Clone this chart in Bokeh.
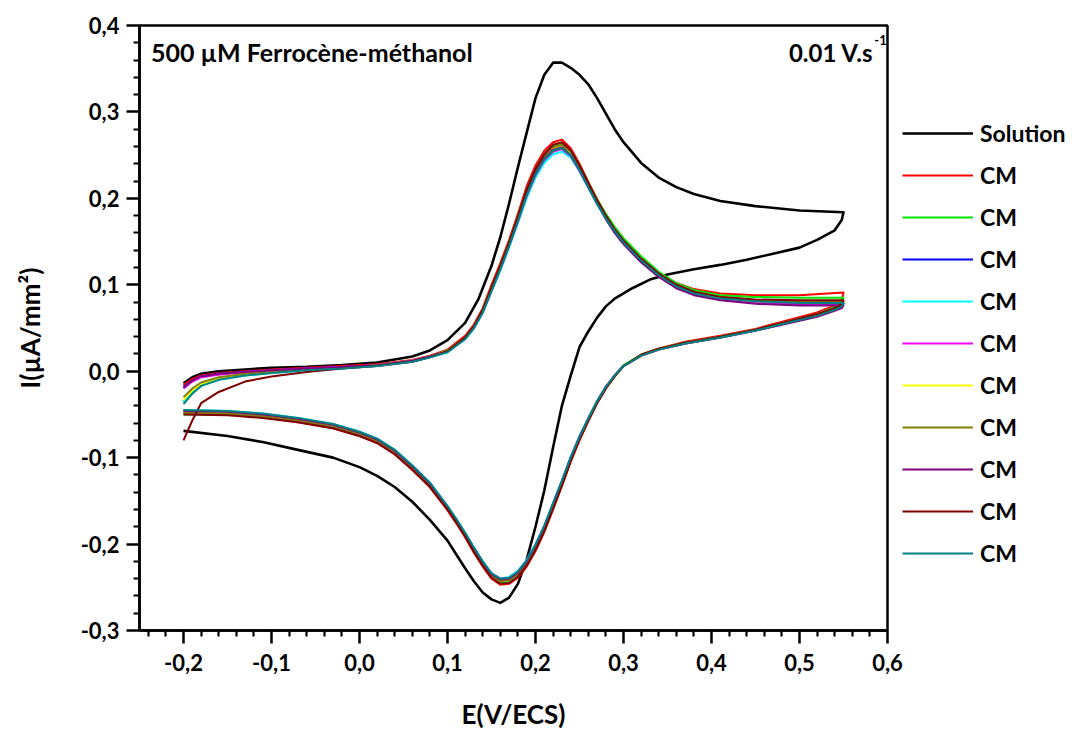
from bokeh.plotting import figure
from bokeh.models import Range1d, Legend, LegendItem, Label, FixedTicker, CustomJSTickFormatter
from bokeh.embed import file_html
from bokeh.resources import INLINE

# ---------------- data ----------------
# Solution (black) : forward (anodic) and reverse branches
E_sol_fwd = [-0.20, -0.19, -0.18, -0.16, -0.13, -0.10, -0.06, -0.02, 0.02, 0.06, 0.08, 0.10, 0.12, 0.135,
             0.15, 0.16, 0.17, 0.18, 0.19, 0.20, 0.21, 0.22, 0.23, 0.24, 0.25, 0.26, 0.27, 0.28, 0.29, 0.30,
             0.32, 0.34, 0.36, 0.38, 0.41, 0.45, 0.50, 0.55]
I_sol_fwd = [-0.014, -0.007, -0.003, 0.000, 0.002, 0.004, 0.005, 0.007, 0.010, 0.017, 0.024, 0.036, 0.056, 0.083,
             0.122, 0.155, 0.194, 0.236, 0.276, 0.316, 0.343, 0.357, 0.357, 0.351, 0.343, 0.332, 0.316, 0.298, 0.280, 0.265,
             0.241, 0.224, 0.213, 0.205, 0.197, 0.191, 0.186, 0.184]
E_sol_rev = [0.55, 0.548, 0.54, 0.52, 0.50, 0.47, 0.44, 0.41, 0.38, 0.35, 0.33, 0.31, 0.29, 0.28, 0.27,
             0.26, 0.25, 0.24, 0.23, 0.22, 0.21, 0.20, 0.19, 0.18, 0.17, 0.16, 0.15, 0.14, 0.13, 0.12,
             0.11, 0.10, 0.08, 0.06, 0.04, 0.02, 0.00, -0.03, -0.07, -0.11, -0.15, -0.20]
I_sol_rev = [0.184, 0.175, 0.163, 0.152, 0.143, 0.136, 0.129, 0.123, 0.118, 0.112, 0.106, 0.096, 0.084, 0.075, 0.062,
             0.046, 0.028, -0.005, -0.040, -0.088, -0.138, -0.180, -0.218, -0.246, -0.262, -0.268, -0.264, -0.256, -0.243, -0.228,
             -0.212, -0.196, -0.172, -0.151, -0.134, -0.121, -0.111, -0.100, -0.091, -0.082, -0.075, -0.069]

# Modified electrodes (CM) : common potential grids
E_cm_fwd = [-0.20, -0.19, -0.18, -0.16, -0.13, -0.10, -0.06, -0.02, 0.02, 0.06,
            0.08, 0.10, 0.12, 0.13, 0.14, 0.15, 0.16, 0.17, 0.18, 0.19,
            0.20, 0.21, 0.22, 0.23, 0.24, 0.25, 0.26, 0.27, 0.28, 0.29,
            0.30, 0.32, 0.34, 0.36, 0.38, 0.41, 0.45, 0.50, 0.55]
E_cm_rev = [0.55, 0.548, 0.54, 0.52, 0.49, 0.45, 0.41, 0.37, 0.34, 0.32,
            0.30, 0.29, 0.28, 0.27, 0.26, 0.25, 0.24, 0.23, 0.22, 0.21,
            0.20, 0.19, 0.18, 0.17, 0.16, 0.15, 0.14, 0.13, 0.12, 0.11,
            0.10, 0.08, 0.06, 0.04, 0.02, 0.00, -0.03, -0.07, -0.11, -0.15, -0.20]

cm_red_fwd = [-0.016, -0.009, -0.005, -0.002, 0.000, 0.002, 0.004, 0.006, 0.008, 0.013,
              0.018, 0.025, 0.041, 0.054, 0.073, 0.100, 0.125, 0.152, 0.182, 0.214,
              0.238, 0.255, 0.265, 0.268, 0.258, 0.240, 0.219, 0.199, 0.181, 0.165,
              0.152, 0.131, 0.114, 0.102, 0.095, 0.090, 0.088, 0.088, 0.091]
cm_red_rev = [0.091, 0.082, 0.076, 0.068, 0.060, 0.049, 0.041, 0.034, 0.026, 0.019,
              0.006, -0.006, -0.020, -0.037, -0.058, -0.080, -0.105, -0.133, -0.160, -0.186,
              -0.208, -0.226, -0.239, -0.246, -0.247, -0.240, -0.226, -0.210, -0.192, -0.176,
              -0.161, -0.134, -0.114, -0.096, -0.083, -0.075, -0.066, -0.059, -0.053, -0.050, -0.048]

cm_green_fwd = [-0.035, -0.024, -0.016, -0.009, -0.004, -0.001, 0.002, 0.004, 0.007, 0.012,
                0.017, 0.024, 0.039, 0.052, 0.071, 0.097, 0.122, 0.149, 0.179, 0.210,
                0.234, 0.251, 0.261, 0.264, 0.255, 0.238, 0.218, 0.199, 0.182, 0.167,
                0.154, 0.133, 0.115, 0.102, 0.094, 0.088, 0.086, 0.085, 0.085]
cm_green_rev = [0.085, 0.079, 0.074, 0.066, 0.058, 0.048, 0.040, 0.033, 0.026, 0.019,
                0.007, -0.005, -0.019, -0.036, -0.056, -0.078, -0.103, -0.131, -0.158, -0.184,
                -0.206, -0.224, -0.237, -0.244, -0.245, -0.238, -0.224, -0.208, -0.190, -0.174,
                -0.159, -0.132, -0.112, -0.094, -0.081, -0.073, -0.064, -0.057, -0.052, -0.050, -0.050]

cm_blue_fwd = [-0.018, -0.011, -0.006, -0.003, -0.001, 0.001, 0.003, 0.005, 0.007, 0.012,
               0.017, 0.023, 0.038, 0.051, 0.069, 0.094, 0.119, 0.146, 0.175, 0.205,
               0.229, 0.246, 0.256, 0.259, 0.251, 0.234, 0.214, 0.195, 0.177, 0.161,
               0.148, 0.127, 0.110, 0.097, 0.089, 0.083, 0.080, 0.078, 0.078]
cm_blue_rev = [0.078, 0.075, 0.071, 0.064, 0.057, 0.047, 0.039, 0.032, 0.025, 0.018,
               0.006, -0.005, -0.018, -0.035, -0.055, -0.076, -0.100, -0.127, -0.154, -0.180,
               -0.202, -0.220, -0.233, -0.240, -0.241, -0.235, -0.221, -0.205, -0.188, -0.172,
               -0.157, -0.130, -0.110, -0.092, -0.079, -0.071, -0.062, -0.055, -0.050, -0.047, -0.046]

cm_cyan_fwd = [-0.036, -0.025, -0.017, -0.010, -0.005, -0.002, 0.001, 0.003, 0.006, 0.011,
               0.016, 0.022, 0.037, 0.049, 0.067, 0.092, 0.116, 0.143, 0.171, 0.200,
               0.224, 0.241, 0.251, 0.254, 0.247, 0.231, 0.212, 0.193, 0.176, 0.161,
               0.148, 0.127, 0.110, 0.097, 0.089, 0.083, 0.080, 0.079, 0.079]
cm_cyan_rev = [0.079, 0.075, 0.071, 0.064, 0.057, 0.047, 0.039, 0.032, 0.025, 0.018,
               0.006, -0.005, -0.018, -0.034, -0.054, -0.075, -0.099, -0.126, -0.152, -0.178,
               -0.200, -0.218, -0.231, -0.238, -0.240, -0.234, -0.220, -0.204, -0.187, -0.171,
               -0.156, -0.129, -0.109, -0.091, -0.078, -0.070, -0.061, -0.054, -0.049, -0.046, -0.045]

cm_magenta_fwd = [-0.020, -0.012, -0.007, -0.004, -0.001, 0.001, 0.003, 0.005, 0.007, 0.012,
                  0.017, 0.023, 0.038, 0.050, 0.068, 0.093, 0.118, 0.145, 0.173, 0.203,
                  0.227, 0.244, 0.254, 0.257, 0.249, 0.232, 0.213, 0.194, 0.177, 0.161,
                  0.148, 0.127, 0.110, 0.097, 0.089, 0.083, 0.080, 0.078, 0.078]
cm_magenta_rev = [0.078, 0.075, 0.071, 0.064, 0.057, 0.047, 0.039, 0.032, 0.025, 0.018,
                  0.006, -0.005, -0.018, -0.035, -0.055, -0.076, -0.100, -0.127, -0.153, -0.179,
                  -0.201, -0.219, -0.232, -0.239, -0.240, -0.234, -0.221, -0.205, -0.188, -0.172,
                  -0.157, -0.130, -0.110, -0.092, -0.079, -0.071, -0.062, -0.055, -0.050, -0.047, -0.046]

cm_yellow_fwd = [-0.033, -0.022, -0.015, -0.008, -0.003, -0.001, 0.002, 0.004, 0.007, 0.012,
                 0.017, 0.023, 0.038, 0.051, 0.070, 0.095, 0.120, 0.147, 0.177, 0.207,
                 0.231, 0.248, 0.258, 0.261, 0.253, 0.236, 0.216, 0.197, 0.179, 0.163,
                 0.150, 0.129, 0.112, 0.099, 0.091, 0.085, 0.081, 0.080, 0.080]
cm_yellow_rev = [0.080, 0.076, 0.072, 0.065, 0.057, 0.047, 0.039, 0.032, 0.025, 0.018,
                 0.006, -0.006, -0.019, -0.036, -0.056, -0.077, -0.101, -0.128, -0.155, -0.181,
                 -0.203, -0.221, -0.234, -0.241, -0.242, -0.236, -0.222, -0.206, -0.189, -0.173,
                 -0.158, -0.131, -0.111, -0.093, -0.080, -0.072, -0.063, -0.056, -0.051, -0.048, -0.047]

cm_olive_fwd = [-0.030, -0.020, -0.013, -0.007, -0.003, 0.000, 0.002, 0.004, 0.007, 0.012,
                0.017, 0.024, 0.039, 0.052, 0.071, 0.096, 0.121, 0.148, 0.178, 0.208,
                0.232, 0.249, 0.259, 0.262, 0.254, 0.237, 0.217, 0.198, 0.180, 0.164,
                0.151, 0.130, 0.113, 0.100, 0.092, 0.086, 0.082, 0.081, 0.081]
cm_olive_rev = [0.081, 0.077, 0.072, 0.065, 0.058, 0.048, 0.040, 0.033, 0.026, 0.019,
                0.006, -0.006, -0.019, -0.036, -0.057, -0.078, -0.102, -0.130, -0.156, -0.182,
                -0.204, -0.222, -0.235, -0.242, -0.243, -0.237, -0.223, -0.207, -0.190, -0.174,
                -0.159, -0.132, -0.112, -0.094, -0.081, -0.073, -0.064, -0.057, -0.052, -0.049, -0.048]

cm_purple_fwd = [-0.019, -0.011, -0.006, -0.003, -0.001, 0.001, 0.003, 0.005, 0.007, 0.012,
                 0.017, 0.023, 0.038, 0.051, 0.069, 0.094, 0.119, 0.146, 0.175, 0.205,
                 0.229, 0.246, 0.256, 0.259, 0.250, 0.233, 0.213, 0.194, 0.176, 0.160,
                 0.147, 0.126, 0.109, 0.096, 0.088, 0.082, 0.078, 0.076, 0.076]
cm_purple_rev = [0.076, 0.073, 0.070, 0.063, 0.056, 0.047, 0.039, 0.032, 0.025, 0.018,
                 0.006, -0.005, -0.018, -0.035, -0.055, -0.076, -0.100, -0.128, -0.154, -0.180,
                 -0.202, -0.220, -0.233, -0.240, -0.241, -0.235, -0.221, -0.205, -0.188, -0.172,
                 -0.157, -0.130, -0.110, -0.092, -0.079, -0.071, -0.062, -0.055, -0.050, -0.047, -0.046]

cm_wine_fwd = [-0.080, -0.057, -0.037, -0.024, -0.012, -0.006, -0.001, 0.003, 0.006, 0.011,
               0.016, 0.023, 0.039, 0.052, 0.071, 0.097, 0.122, 0.149, 0.179, 0.210,
               0.234, 0.251, 0.262, 0.265, 0.256, 0.238, 0.218, 0.198, 0.180, 0.164,
               0.151, 0.130, 0.113, 0.100, 0.092, 0.086, 0.083, 0.082, 0.082]
cm_wine_rev = [0.082, 0.078, 0.073, 0.066, 0.058, 0.048, 0.040, 0.033, 0.026, 0.019,
               0.006, -0.006, -0.020, -0.037, -0.057, -0.079, -0.104, -0.132, -0.159, -0.185,
               -0.207, -0.225, -0.238, -0.245, -0.246, -0.239, -0.225, -0.209, -0.191, -0.175,
               -0.160, -0.134, -0.114, -0.096, -0.083, -0.075, -0.066, -0.059, -0.054, -0.051, -0.050]

cm_teal_fwd = [-0.038, -0.026, -0.017, -0.010, -0.005, -0.002, 0.001, 0.003, 0.006, 0.011,
               0.016, 0.022, 0.037, 0.050, 0.068, 0.093, 0.118, 0.145, 0.174, 0.204,
               0.228, 0.245, 0.255, 0.258, 0.250, 0.233, 0.213, 0.194, 0.177, 0.162,
               0.149, 0.128, 0.111, 0.098, 0.090, 0.084, 0.081, 0.079, 0.079]
cm_teal_rev = [0.079, 0.075, 0.071, 0.064, 0.057, 0.047, 0.039, 0.032, 0.025, 0.018,
               0.006, -0.005, -0.018, -0.035, -0.055, -0.076, -0.100, -0.127, -0.153, -0.179,
               -0.201, -0.219, -0.232, -0.239, -0.240, -0.234, -0.220, -0.204, -0.187, -0.171,
               -0.156, -0.129, -0.109, -0.091, -0.078, -0.070, -0.061, -0.054, -0.049, -0.046, -0.045]

series_labels = ["Solution", "CM", "CM", "CM", "CM", "CM", "CM", "CM", "CM", "CM", "CM"]
series_colors = ["#000000", "#FF0000", "#00E800", "#0000FF", "#00FFFF", "#FF00FF",
                 "#FFFF00", "#808000", "#800080", "#800000", "#008080"]
cm_series = [(cm_red_fwd, cm_red_rev), (cm_green_fwd, cm_green_rev), (cm_blue_fwd, cm_blue_rev),
             (cm_cyan_fwd, cm_cyan_rev), (cm_magenta_fwd, cm_magenta_rev), (cm_yellow_fwd, cm_yellow_rev),
             (cm_olive_fwd, cm_olive_rev), (cm_purple_fwd, cm_purple_rev), (cm_wine_fwd, cm_wine_rev),
             (cm_teal_fwd, cm_teal_rev)]

x_ticks = [-0.2, -0.1, 0.0, 0.1, 0.2, 0.3, 0.4, 0.5, 0.6]
y_ticks = [-0.3, -0.2, -0.1, 0.0, 0.1, 0.2, 0.3, 0.4]

title_left = "500 µM Ferrocène-méthanol"
title_right = "0.01 V.s"
title_right_sup = "-1"
x_label = "E(V/ECS)"
y_label = "I(µA/mm²)"

FONT = "Lato"

# ---------------- figure ----------------
p = figure(frame_width=748, frame_height=605,
           x_range=Range1d(-0.25, 0.6), y_range=Range1d(-0.3, 0.4),
           output_backend="svg", toolbar_location=None,
           min_border_left=139, min_border_top=25, min_border_right=185, min_border_bottom=90)
p.background_fill_color = "white"
p.border_fill_color = "white"
p.xgrid.visible = False
p.ygrid.visible = False
p.outline_line_color = "black"
p.outline_line_width = 2.5

items = []
r = p.line(E_sol_fwd + E_sol_rev, I_sol_fwd + I_sol_rev, line_color=series_colors[0], line_width=2.6,
           line_join="round")
items.append(LegendItem(label=series_labels[0], renderers=[r]))
for (fwd, rev), col, lab in zip(cm_series, series_colors[1:], series_labels[1:]):
    r = p.line(E_cm_fwd + E_cm_rev, fwd + rev, line_color=col, line_width=2.0, line_join="round")
    items.append(LegendItem(label=lab, renderers=[r]))

fmt = CustomJSTickFormatter(code="""
    if (Math.abs(tick) < 1e-9) { return '0,0'; }
    return tick.toFixed(1).replace('.', ',');
""")


def minor_between(majors, lo, hi):
    step = round((majors[1] - majors[0]) / 5, 4)
    out = []
    v = lo
    while v <= hi + 1e-9:
        if all(abs(v - m) > 1e-6 for m in majors):
            out.append(round(v, 4))
        v += step
    return out


p.xaxis[0].ticker = FixedTicker(ticks=x_ticks, minor_ticks=minor_between(x_ticks, -0.24, 0.6))
p.yaxis[0].ticker = FixedTicker(ticks=y_ticks, minor_ticks=minor_between(y_ticks, -0.3, 0.4))

for ax, lab in ((p.xaxis[0], x_label), (p.yaxis[0], y_label)):
    ax.axis_label = lab
    ax.axis_label_text_font = FONT
    ax.axis_label_text_font_style = "bold"
    ax.axis_label_text_font_size = "26px"
    ax.axis_label_text_color = "black"
    ax.major_label_text_font = FONT
    ax.major_label_text_font_style = "bold"
    ax.major_label_text_font_size = "22px"
    ax.major_label_text_color = "black"
    ax.axis_line_width = 2.5
    ax.axis_line_color = "black"
    ax.major_tick_line_width = 2.5
    ax.minor_tick_line_width = 2.2
    ax.major_tick_line_color = "black"
    ax.minor_tick_line_color = "black"
    ax.major_tick_out = 13
    ax.major_tick_in = 0
    ax.minor_tick_out = 6
    ax.minor_tick_in = 0
    ax.formatter = fmt

p.xaxis.major_label_standoff = 10
p.xaxis.axis_label_standoff = 24
p.yaxis.major_label_standoff = 7
p.yaxis.axis_label_standoff = 32

p.add_layout(Label(x=-0.237, y=0.369, text=title_left, text_font=FONT, text_font_style="bold",
                   text_font_size="25px", text_baseline="middle", text_align="left", text_color="black"))
p.add_layout(Label(x=0.584, y=0.369, text=title_right, text_font=FONT, text_font_style="bold",
                   text_font_size="24px", text_baseline="middle", text_align="right", text_color="black"))
p.add_layout(Label(x=0.585, y=0.383, text=title_right_sup, text_font=FONT, text_font_style="bold",
                   text_font_size="13px", text_baseline="middle", text_align="left", text_color="black"))

legend = Legend(items=items, location=(15, 62), orientation="vertical",
                border_line_color=None, background_fill_alpha=0,
                label_text_font=FONT, label_text_font_style="bold", label_text_font_size="23px",
                label_text_color="black", glyph_width=71, glyph_height=30, label_height=30,
                label_standoff=7, spacing=12, padding=0, margin=0)
p.add_layout(legend, "right")

open("out.html", "w").write(file_html(p, INLINE))
